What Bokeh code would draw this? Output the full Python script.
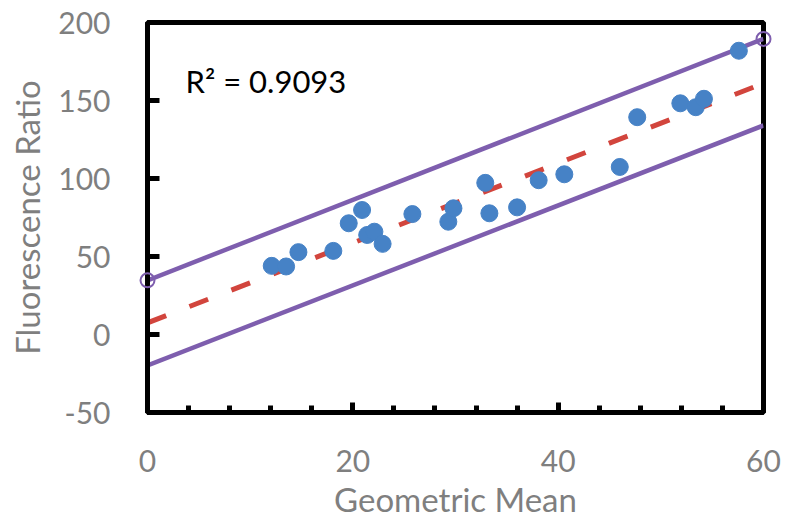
from bokeh.plotting import figure
from bokeh.models import FixedTicker, Label
from bokeh.embed import file_html
from bokeh.resources import INLINE

# Data
geo_mean = [12.1, 13.5, 14.7, 18.1, 19.6, 20.9, 21.4, 22.1, 22.9, 25.8, 29.3, 29.8,
            32.9, 33.3, 36.0, 38.1, 40.6, 46.0, 47.7, 51.9, 53.4, 54.2, 57.6]
fluor_ratio = [44.0, 43.6, 52.8, 53.6, 71.3, 79.8, 63.8, 65.9, 58.1, 77.2, 72.3, 80.9,
               97.2, 77.7, 81.5, 98.9, 102.7, 107.4, 139.3, 148.2, 145.7, 151.1, 181.9]

line_x = [0, 60]
fit_y = [7.5, 161.0]
upper_y = [34.7, 189.5]
lower_y = [-19.8, 134.0]

x_ticks = [0, 20, 40, 60]
x_minor = [4, 8, 12, 16, 24, 28, 32, 36, 44, 48, 52, 56]
y_ticks = [-50, 0, 50, 100, 150, 200]

r2_text = "R² = 0.9093"
r2_pos = (3.7, 162.5)

FONT = "Lato"
GRAY = "#7F7F7F"
BLUE = "#4682C6"
PURPLE = "#7E5EAE"
RED = "#D2453D"

p = figure(width=787, height=521, x_range=(0, 60), y_range=(-50, 200),
           output_backend="svg", toolbar_location=None,
           min_border_left=147, min_border_right=24, min_border_top=22, min_border_bottom=108)
p.background_fill_color = "white"
p.border_fill_color = "white"
p.xgrid.visible = False
p.ygrid.visible = False
p.outline_line_color = "black"
p.outline_line_width = 5

# Lines
p.line(line_x, upper_y, line_color=PURPLE, line_width=4.5)
p.line(line_x, lower_y, line_color=PURPLE, line_width=4.5)
p.line(line_x, fit_y, line_color=RED, line_width=5, line_dash="20 25")

# Points
p.scatter(geo_mean, fluor_ratio, size=17, fill_color=BLUE, line_color=BLUE)

# Endpoint markers of the upper limit line
p.scatter(line_x, upper_y, size=14, fill_color=None, line_color=PURPLE, line_width=2,
          level="overlay")

# Axes
xa = p.xaxis[0]
xa.ticker = FixedTicker(ticks=x_ticks, minor_ticks=x_minor)
xa.axis_line_color = "black"
xa.axis_line_width = 5
xa.major_tick_in = 10
xa.major_tick_out = 0
xa.minor_tick_in = 7
xa.minor_tick_out = 0
xa.major_tick_line_width = 5
xa.minor_tick_line_width = 5
xa.major_tick_line_color = "black"
xa.minor_tick_line_color = "black"
xa.major_label_text_font = FONT
xa.major_label_text_font_size = "30px"
xa.major_label_text_color = GRAY
xa.major_label_standoff = 37
xa.axis_label = "Geometric Mean"
xa.axis_label_text_font = FONT
xa.axis_label_text_font_size = "33px"
xa.axis_label_text_font_style = "normal"
xa.axis_label_text_color = GRAY
xa.axis_label_standoff = 4

ya = p.yaxis[0]
ya.ticker = FixedTicker(ticks=y_ticks, minor_ticks=[])
ya.axis_line_color = "black"
ya.axis_line_width = 5
ya.major_tick_in = 12
ya.major_tick_out = 0
ya.major_tick_line_width = 5
ya.major_tick_line_color = "black"
ya.minor_tick_line_color = None
ya.major_label_text_font = FONT
ya.major_label_text_font_size = "30px"
ya.major_label_text_color = GRAY
ya.major_label_standoff = 37
ya.major_label_overrides = {-50: "-50"}
ya.axis_label = "Fluorescence Ratio"
ya.axis_label_text_font = FONT
ya.axis_label_text_font_size = "33px"
ya.axis_label_text_font_style = "normal"
ya.axis_label_text_color = GRAY
ya.axis_label_standoff = 8

lab = Label(x=r2_pos[0], y=r2_pos[1], text=r2_text,
            text_font=FONT, text_font_size="31px", text_color="black",
            text_baseline="middle")
p.add_layout(lab)

open("out.html", "w").write(file_html(p, INLINE))
